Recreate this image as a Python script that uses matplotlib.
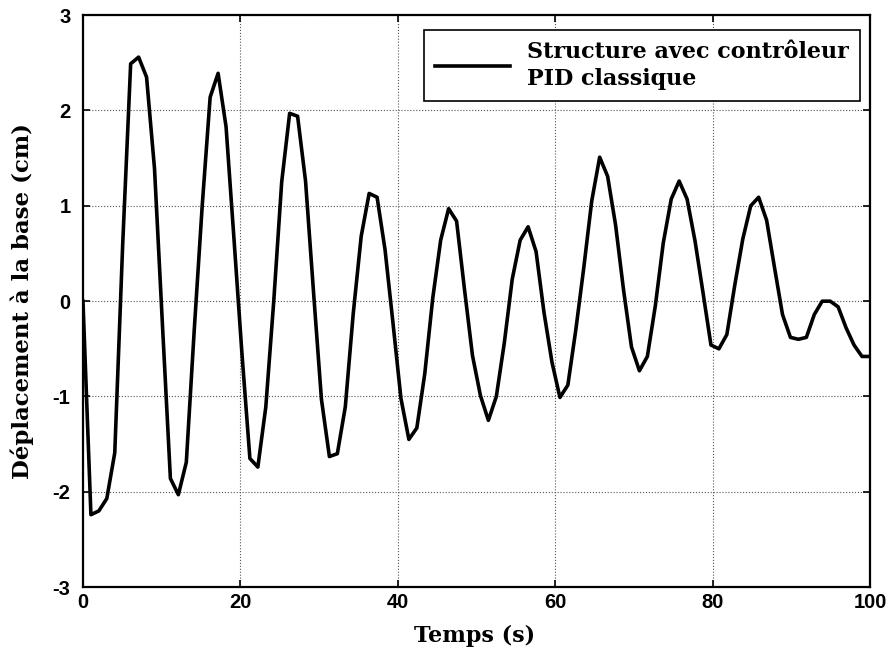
import numpy as np
import matplotlib
matplotlib.use('Agg')
import matplotlib.pyplot as plt

plt.rcParams['axes.unicode_minus'] = False
plt.rcParams['font.weight'] = 'bold'

# temps (s) : 100 echantillons entre 0 et 100
temps = np.linspace(0, 100, 100)

# deplacement a la base (cm)
deplacement = [0.0, -2.24, -2.20, -2.07, -1.59, 0.6, 2.49, 2.56, 2.35, 1.39,
               -0.25, -1.86, -2.03, -1.69, -0.3, 1.0, 2.14, 2.39, 1.83, 0.65,
               -0.55, -1.65, -1.74, -1.11, 0.0, 1.25, 1.97, 1.94, 1.26, 0.1,
               -1.03, -1.63, -1.60, -1.11, -0.13, 0.68, 1.13, 1.09, 0.54, -0.23,
               -1.02, -1.45, -1.33, -0.76, 0.03, 0.64, 0.97, 0.84, 0.12, -0.57,
               -0.99, -1.25, -1.0, -0.44, 0.23, 0.64, 0.78, 0.52, -0.12, -0.64,
               -1.01, -0.88, -0.3, 0.35, 1.05, 1.51, 1.31, 0.8, 0.12, -0.48,
               -0.73, -0.58, -0.05, 0.61, 1.07, 1.26, 1.07, 0.63, 0.09, -0.46,
               -0.50, -0.35, 0.17, 0.65, 1.0, 1.09, 0.85, 0.35, -0.14, -0.38,
               -0.40, -0.38, -0.14, 0.0, 0.0, -0.06, -0.28, -0.46, -0.58, -0.58]

xticks = [0, 20, 40, 60, 80, 100]
yticks = [-3, -2, -1, 0, 1, 2, 3]
label = 'Structure avec contrôleur\nPID classique'

fig = plt.figure(figsize=(8.95, 6.59), dpi=100)
ax = fig.add_axes([0.0927, 0.109, 0.8793, 0.868])

ax.plot(temps, deplacement, color='black', linewidth=2.6, label=label)

ax.set_xlim(0, 100)
ax.set_ylim(-3, 3)
ax.set_xticks(xticks)
ax.set_yticks(yticks)

ax.grid(True, linestyle=':', color='#555555', linewidth=0.8)
ax.tick_params(direction='in', length=5, width=1.2, top=True, right=True)
for lab in ax.get_xticklabels() + ax.get_yticklabels():
    lab.set_family('Liberation Sans')
    lab.set_fontsize(14.5)
    lab.set_fontweight('bold')
ax.tick_params(axis='x', pad=4)
ax.tick_params(axis='y', pad=9)

for sp in ax.spines.values():
    sp.set_linewidth(1.6)

ax.set_xlabel('Temps (s)', family='DejaVu Serif', fontsize=16, fontweight='bold')
ax.set_ylabel('Déplacement à la base (cm)', family='DejaVu Serif', fontsize=16.5, fontweight='bold')
ax.xaxis.set_label_coords(0.497, -0.066)
ax.yaxis.set_label_coords(-0.062, 0.5)

leg = ax.legend(loc='upper right', bbox_to_anchor=(0.987, 0.974), borderaxespad=0,
                fancybox=False, framealpha=1, edgecolor='black',
                handlelength=3.4, handletextpad=0.75, borderpad=0.5,
                prop={'family': 'DejaVu Serif', 'weight': 'bold', 'size': 16})
leg.get_frame().set_linewidth(1.2)
for txt in leg.get_texts():
    txt.set_linespacing(1.3)

plt.savefig('out.png')
